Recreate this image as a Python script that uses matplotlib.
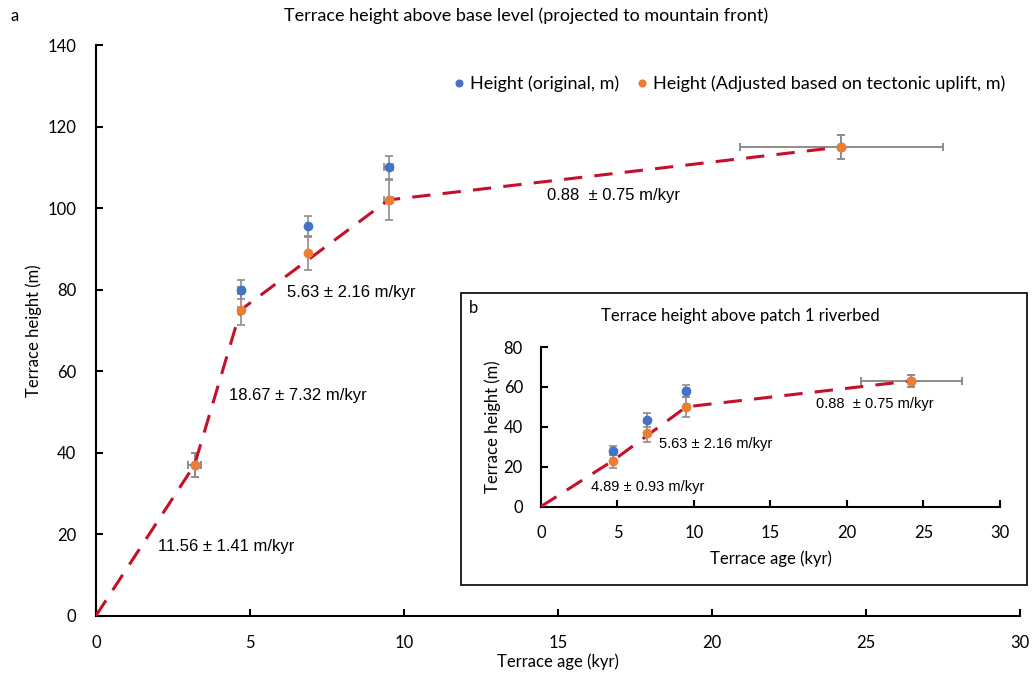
import numpy as np
import matplotlib.pyplot as plt
from matplotlib.patches import Rectangle

# 数据 (a: projected to mountain front)
age_a = [3.2, 4.7, 6.9, 9.5, 24.2]
age_err_a = [0.2, 0.1, 0.0, 0.15, 3.3]
h_orig_a = [37, 80, 95.5, 110, 115]
h_orig_err_a = [3, 2.3, 2.5, 2.8, 3]
h_adj_a = [37, 75, 89, 102, 115]
h_adj_err_a = [3, 3.8, 4.2, 5, 3]
fit_age_a = [0, 3.2, 4.7, 9.5, 24.2]
fit_h_a = [0, 37, 75, 102, 115]
rates_a = ['11.56 ± 1.41 m/kyr', '18.67 ± 7.32 m/kyr', '5.63 ± 2.16 m/kyr', '0.88  ± 0.75 m/kyr']

# 数据 (b: above patch 1 riverbed)
age_b = [4.7, 6.9, 9.5, 24.2]
age_err_b = [0.1, 0.0, 0.15, 3.3]
h_orig_b = [28, 43.2, 57.7, 63]
h_orig_err_b = [2.3, 3.5, 3, 3]
h_adj_b = [23, 37, 50, 63]
h_adj_err_b = [3.5, 4.7, 5, 3]
fit_age_b = [0, 4.7, 9.5, 24.2]
fit_h_b = [0, 23, 50, 63]
rates_b = ['4.89 ± 0.93 m/kyr', '5.63 ± 2.16 m/kyr', '0.88  ± 0.75 m/kyr']

blue = '#4472C4'
orange = '#ED7D31'
red = '#C4102A'
gray = '#8C8C8C'
plt.rcParams['font.family'] = ['Lato', 'DejaVu Sans']
ann_font = 'Liberation Sans'

fig = plt.figure(figsize=(10.34, 6.82), dpi=100)
ax = fig.add_axes([0.0928, 0.0972, 0.8936, 0.8368])


def draw(ax, age, age_err, h1, e1, h2, e2, fa, fh, ms):
    ax.errorbar(age, h1, yerr=e1, xerr=age_err, fmt='none', ecolor=gray,
                elinewidth=1.2, capsize=3, capthick=1.2, zorder=2)
    ax.errorbar(age, h2, yerr=e2, xerr=age_err, fmt='none', ecolor=gray,
                elinewidth=1.2, capsize=3, capthick=1.2, zorder=2)
    ax.plot(fa, fh, color=red, lw=2.2, dashes=(6, 4), zorder=3)
    ax.plot(age, h1, 'o', color=blue, ms=ms, zorder=4,
            label='Height (original, m)')
    ax.plot(age, h2, 'o', color=orange, ms=ms, zorder=5,
            label='Height (Adjusted based on tectonic uplift, m)')
    for s in ['top', 'right']:
        ax.spines[s].set_visible(False)
    for s in ['left', 'bottom']:
        ax.spines[s].set_linewidth(1.5)
    ax.tick_params(direction='in', length=5, width=1.5, labelsize=12, pad=14)


draw(ax, age_a, age_err_a, h_orig_a, h_orig_err_a, h_adj_a, h_adj_err_a,
     fit_age_a, fit_h_a, 6)
ax.set_xlim(0, 30)
ax.set_ylim(0, 140)
ax.set_xticks(np.arange(0, 31, 5))
ax.set_yticks(np.arange(0, 141, 20))
ax.set_xlabel('Terrace age (kyr)', fontsize=12, labelpad=2)
ax.set_ylabel('Terrace height (m)', fontsize=12, labelpad=4)
ax.legend(loc='upper right', bbox_to_anchor=(1.002, 0.975), ncol=2, frameon=False,
          fontsize=13, handlelength=0.6, handletextpad=0.3, columnspacing=1.0,
          markerscale=0.8)

pos_a = [(4.23, 17.1), (6.57, 53.9), (8.3, 79.2), (16.8, 103)]
for (x, y), s in zip(pos_a, rates_a):
    ax.text(x, y, s, ha='center', va='center', fontsize=12, family=ann_font)

fig.text(0.509, 0.977, 'Terrace height above base level (projected to mountain front)',
         ha='center', va='center', fontsize=13)
fig.text(0.01, 0.977, 'a', ha='left', va='center', fontsize=12)

# inset b
fig.patches.append(Rectangle((0.4458, 0.1422), 0.5474, 0.4282, transform=fig.transFigure,
                             facecolor='white', edgecolor='black', lw=1.2, zorder=5))
axb = fig.add_axes([0.5232, 0.2573, 0.4439, 0.2339])
axb.set_zorder(6)
axb.patch.set_alpha(0)
draw(axb, age_b, age_err_b, h_orig_b, h_orig_err_b, h_adj_b, h_adj_err_b,
     fit_age_b, fit_h_b, 6)
axb.tick_params(pad=13)
axb.set_xlim(0, 30)
axb.set_ylim(0, 80)
axb.set_xticks(np.arange(0, 31, 5))
axb.set_yticks(np.arange(0, 81, 20))
axb.set_xlabel('Terrace age (kyr)', fontsize=12, labelpad=7)
axb.set_ylabel('Terrace height (m)', fontsize=12, labelpad=2)
pos_b = [(7.0, 9.8), (11.4, 31.4), (21.8, 51.5)]
for (x, y), s in zip(pos_b, rates_b):
    axb.text(x, y, s, ha='center', va='center', fontsize=10.5, family=ann_font)
fig.text(0.716, 0.537, 'Terrace height above patch 1 riverbed', ha='center', va='center',
         fontsize=12, zorder=7)
fig.text(0.453, 0.548, 'b', ha='left', va='center', fontsize=12, zorder=7)

fig.savefig('out.png', dpi=100)
